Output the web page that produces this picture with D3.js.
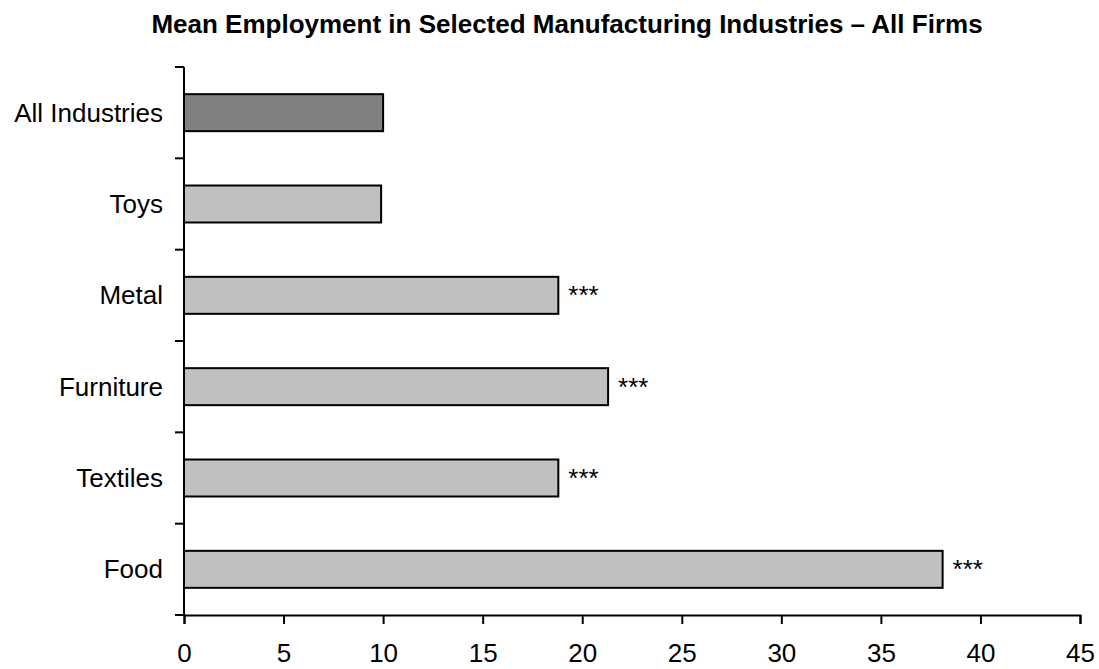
<!DOCTYPE html>
<html>
<head>
<meta charset="utf-8">
<script src="https://cdn.jsdelivr.net/npm/d3@7"></script>
<style>
  body { margin: 0; background: #fff; }
  text { font-family: Arial, "Liberation Sans", sans-serif; fill: #000; }
</style>
</head>
<body>
<div id="chart"></div>
<script>
// data, top to bottom
var categories = ["All Industries", "Toys", "Metal", "Furniture", "Textiles", "Food"];
var values = [10.0, 9.9, 18.8, 21.3, 18.8, 38.1];
var stars = ["", "", "***", "***", "***", "***"];
var xTicks = [0, 5, 10, 15, 20, 25, 30, 35, 40, 45];

var width = 1099, height = 669;
var margin = {top: 67, right: 19, bottom: 54, left: 184};

var svg = d3.select("#chart").append("svg")
    .attr("width", width)
    .attr("height", height);

var x = d3.scaleLinear()
    .domain([0, 45])
    .range([margin.left, width - margin.right]);

var y = d3.scaleBand()
    .domain(categories)
    .range([margin.top, height - margin.bottom])
    .paddingInner(0.595)
    .paddingOuter(0.2975);

// title
svg.append("text")
    .attr("x", 567)
    .attr("y", 33)
    .attr("text-anchor", "middle")
    .style("font-weight", "bold")
    .style("font-size", "26px")
    .text("Mean Employment in Selected Manufacturing Industries \u2013 All Firms");

// bars
svg.append("g").selectAll("rect")
    .data(categories)
    .enter().append("rect")
    .attr("x", x(0))
    .attr("y", function(d) { return y(d); })
    .attr("width", function(d, i) { return x(values[i]) - x(0); })
    .attr("height", y.bandwidth())
    .attr("fill", function(d, i) { return i === 0 ? "#808080" : "#c0c0c0"; })
    .attr("stroke", "#000")
    .attr("stroke-width", 2);

// significance stars
svg.append("g").selectAll("text")
    .data(categories)
    .enter().append("text")
    .attr("x", function(d, i) { return x(values[i]) + 10; })
    .attr("y", function(d) { return y(d) + y.bandwidth() / 2; })
    .attr("dy", "0.35em")
    .style("font-size", "26px")
    .text(function(d, i) { return stars[i]; });

// x axis
var xAxis = svg.append("g")
    .attr("transform", "translate(0," + (height - margin.bottom) + ")")
    .call(d3.axisBottom(x).tickValues(xTicks).tickSize(9).tickPadding(20));
xAxis.select(".domain").attr("stroke-width", 2);
xAxis.selectAll(".tick line").attr("stroke-width", 2);
xAxis.selectAll("text").style("font-size", "26px").attr("font-family", null);

// y axis: ticks on band boundaries, labels centred in bands
var step = y.step();
var bounds = d3.range(categories.length + 1).map(function(i) { return margin.top + i * step; });
var yAxis = svg.append("g");
yAxis.append("line")
    .attr("x1", x(0)).attr("x2", x(0))
    .attr("y1", bounds[0]).attr("y2", bounds[bounds.length - 1])
    .attr("stroke", "#000").attr("stroke-width", 2);
yAxis.selectAll(".ytick")
    .data(bounds)
    .enter().append("line")
    .attr("class", "ytick")
    .attr("x1", x(0) - 9).attr("x2", x(0))
    .attr("y1", function(d) { return d; }).attr("y2", function(d) { return d; })
    .attr("stroke", "#000").attr("stroke-width", 2);
yAxis.selectAll(".ylabel")
    .data(categories)
    .enter().append("text")
    .attr("class", "ylabel")
    .attr("x", x(0) - 21)
    .attr("y", function(d) { return y(d) + y.bandwidth() / 2; })
    .attr("dy", "0.35em")
    .attr("text-anchor", "end")
    .style("font-size", "26px")
    .text(function(d) { return d; });
</script>
</body>
</html>
